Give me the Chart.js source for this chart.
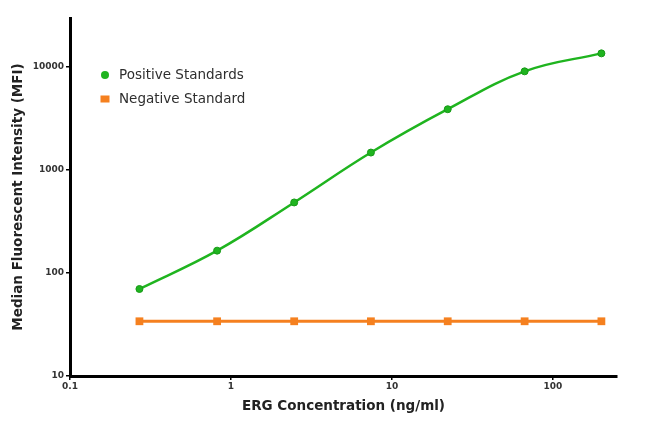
<!DOCTYPE html>
<html><head><meta charset="utf-8">
<script src="https://cdn.jsdelivr.net/npm/chart.js@4"></script>
<style>html,body{margin:0;padding:0;background:#fff}#wrap{width:650px;height:425px;position:relative}</style>
</head><body><div id="wrap"><canvas id="c" width="650" height="425"></canvas></div>
<script>
const concentrations = [0.27, 0.82, 2.47, 7.4, 22.2, 66.7, 200];
const positiveMFI = [70, 165, 485, 1480, 3900, 9100, 13600];
const negativeMFI = [34, 34, 34, 34, 34, 34, 34];
const xTicks = [0.1, 1, 10, 100];
const yTicks = [10, 100, 1000, 10000];
const seriesLabels = ['Positive Standards', 'Negative Standard'];
const xTitle = 'ERG Concentration (ng/ml)';
const yTitle = 'Median Fluorescent Intensity (MFI)';

const GREEN = '#1fb41f';
const ORANGE = '#f5801f';

const insideLegend = {
  id: 'insideLegend',
  afterDatasetsDraw(chart) {
    const ctx = chart.ctx;
    const ca = chart.chartArea;
    ctx.save();
    ctx.font = '13.5px "DejaVu Sans"';
    ctx.textBaseline = 'middle';
    chart.data.datasets.forEach((ds, i) => {
      const y = ca.top + 57 + i * 24;
      const mx = ca.left + 35;
      ctx.fillStyle = ds.borderColor;
      if (ds.pointStyle === 'circle') {
        ctx.beginPath(); ctx.arc(mx, y, 4, 0, Math.PI * 2); ctx.fill();
      } else {
        ctx.fillRect(mx - 4.5, y - 3.5, 9, 7);
      }
      ctx.fillStyle = '#2e2e2e';
      ctx.fillText(ds.label, mx + 14, y);
    });
    ctx.restore();
  }
};

const tickFont = { family: 'DejaVu Sans', size: 9, weight: 'bold' };
const titleFont = { family: 'DejaVu Sans', size: 13.5, weight: 'bold' };

new Chart(document.getElementById('c'), {
  type: 'line',
  data: {
    datasets: [
      {
        label: seriesLabels[0],
        data: concentrations.map((x, i) => ({ x, y: positiveMFI[i] })),
        borderColor: GREEN, backgroundColor: GREEN,
        borderWidth: 2.5, pointStyle: 'circle', pointRadius: 3.5,
        pointBorderWidth: 1, pointBorderColor: '#179a17', tension: 0.4, fill: false
      },
      {
        label: seriesLabels[1],
        data: concentrations.map((x, i) => ({ x, y: negativeMFI[i] })),
        borderColor: ORANGE, backgroundColor: ORANGE,
        borderWidth: 3, pointStyle: 'rect', pointRadius: 5.5,
        pointBorderWidth: 0, tension: 0, fill: false
      }
    ]
  },
  options: {
    responsive: false,
    animation: false,
    devicePixelRatio: 1,
    layout: { padding: { top: 18, right: 33, bottom: 0, left: 0 } },
    plugins: { legend: { display: false }, tooltip: { enabled: false } },
    scales: {
      x: {
        type: 'logarithmic', position: 'bottom', min: 0.1, max: 250,
        afterBuildTicks: s => { s.ticks = xTicks.map(v => ({ value: v, major: true })); },
        afterFit: s => { s.height = 49; },
        ticks: { callback: v => String(v), font: tickFont, color: '#333', padding: 1, maxRotation: 0, autoSkip: false },
        grid: { drawOnChartArea: false, drawTicks: true, tickLength: 4, color: '#000', lineWidth: 1.5 },
        border: { color: '#000', width: 3 },
        title: { display: true, text: xTitle, font: titleFont, color: '#222', padding: { top: 0, bottom: 10 } }
      },
      y: {
        type: 'logarithmic', position: 'left', min: 10, max: 30000,
        afterBuildTicks: s => { s.ticks = yTicks.map(v => ({ value: v, major: true })); },
        afterFit: s => { s.width = 70; },
        ticks: { callback: v => String(v), font: tickFont, color: '#333', padding: 2, autoSkip: false },
        grid: { drawOnChartArea: false, drawTicks: true, tickLength: 4, color: '#000', lineWidth: 1.5 },
        border: { color: '#000', width: 3 },
        title: { display: true, text: yTitle, font: titleFont, color: '#222', padding: { top: 10, bottom: 0 } }
      }
    }
  },
  plugins: [insideLegend]
});
</script>
</body></html>
